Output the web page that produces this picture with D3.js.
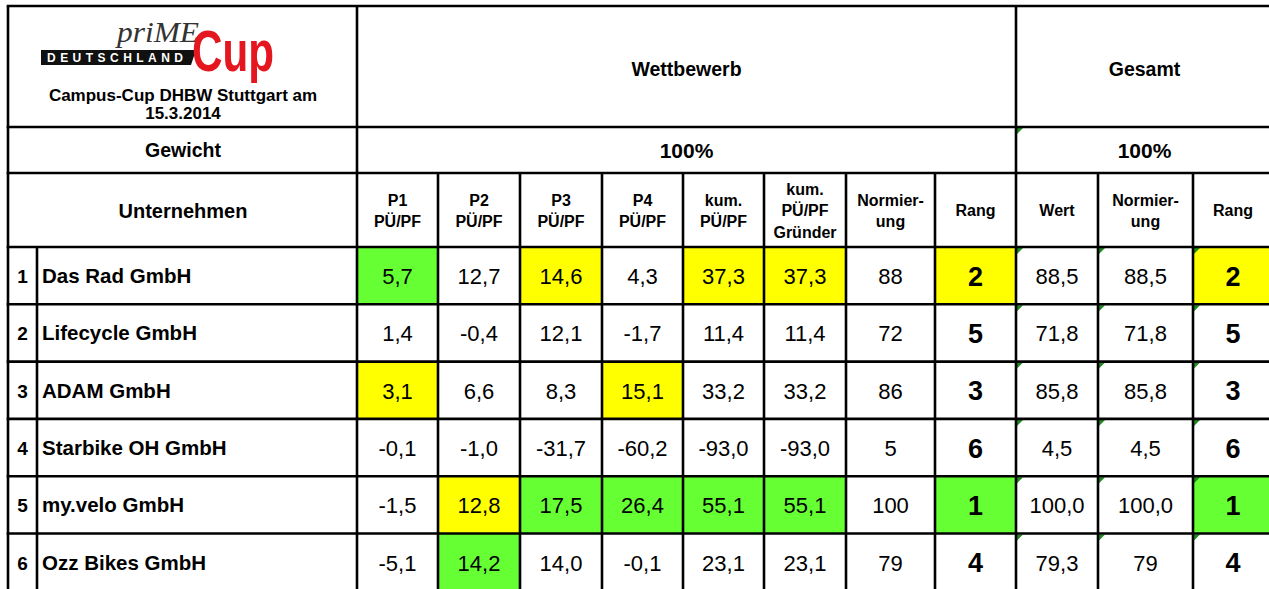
<!DOCTYPE html>
<html>
<head>
<meta charset="utf-8">
<script src="https://cdn.jsdelivr.net/npm/d3@7"></script>
<style>
  body { margin: 0; background: #fff; }
  svg { display: block; font-family: "Liberation Sans", Arial, sans-serif; }
</style>
</head>
<body>
<svg id="tbl" width="1269" height="589"></svg>
<script>
// ---- data ----
const companies = ['Das Rad GmbH', 'Lifecycle GmbH', 'ADAM GmbH', 'Starbike OH GmbH', 'my.velo GmbH', 'Ozz Bikes GmbH'];
const p1   = [5.7, 1.4, 3.1, -0.1, -1.5, -5.1];
const p2   = [12.7, -0.4, 6.6, -1.0, 12.8, 14.2];
const p3   = [14.6, 12.1, 8.3, -31.7, 17.5, 14.0];
const p4   = [4.3, -1.7, 15.1, -60.2, 26.4, -0.1];
const kum  = [37.3, 11.4, 33.2, -93.0, 55.1, 23.1];
const kumG = [37.3, 11.4, 33.2, -93.0, 55.1, 23.1];
const norm = [88, 72, 86, 5, 100, 79];
const rang = [2, 5, 3, 6, 1, 4];
const wert = [88.5, 71.8, 85.8, 4.5, 100.0, 79.3];
const gNorm = ['88,5', '71,8', '85,8', '4,5', '100,0', '79'];
const gRang = [2, 5, 3, 6, 1, 4];

const colHeads = [['P1', 'PÜ/PF'], ['P2', 'PÜ/PF'], ['P3', 'PÜ/PF'], ['P4', 'PÜ/PF'],
  ['kum.', 'PÜ/PF'], ['kum.', 'PÜ/PF', 'Gründer'], ['Normier-', 'ung'], ['Rang'],
  ['Wert'], ['Normier-', 'ung'], ['Rang']];
const weights = ['100%', '100%'];

// highlight per row: column index -> 'g' (best) / 'y' (second)
const marks = [
  { 0: 'g', 2: 'y', 4: 'y', 5: 'y', 7: 'y', 10: 'y' },
  {},
  { 0: 'y', 3: 'y' },
  {},
  { 1: 'y', 2: 'g', 3: 'g', 4: 'g', 5: 'g', 7: 'g', 10: 'g' },
  { 1: 'g' }
];

// ---- layout ----
const svg = d3.select('#tbl');
const fillCol = { g: '#66ff33', y: '#ffff00' };
const de = d3.formatLocale({ decimal: ',', thousands: '.', grouping: [3], currency: ['', '€'], minus: '-' });
const f1 = de.format('.1f');

const X0 = 8, XN = 37, XV = 357, XG = 1016, XR = 1273;
const colEdges = [357, 438, 520, 602, 683, 764, 846, 935, 1016, 1098, 1193, 1273];
const yTop = 6, yGew = 127, yHead = 173, yData = 247;

const yRow = d3.scaleBand().domain(d3.range(companies.length)).range([yData, yData + 57.3 * 6]).padding(0);
const xCol = i => colEdges[i];
const cw = i => colEdges[i + 1] - colEdges[i];
const cx = i => (colEdges[i] + colEdges[i + 1]) / 2;

const columns = [
  p1.map(f1), p2.map(f1), p3.map(f1), p4.map(f1), kum.map(f1), kumG.map(f1),
  norm.map(String), rang.map(String), wert.map(f1), gNorm, gRang.map(String)
];

// cell fills
const cells = svg.append('g');
companies.forEach((c, r) => {
  Object.entries(marks[r]).forEach(([ci, m]) => {
    ci = +ci;
    cells.append('rect')
      .attr('x', xCol(ci)).attr('y', yRow(r))
      .attr('width', cw(ci)).attr('height', yRow.bandwidth())
      .attr('fill', fillCol[m]);
  });
});

// green corner markers in Gesamt columns
const tri = svg.append('g').attr('fill', '#1f8a1f');
function corner(x, y) {
  tri.append('path').attr('d', `M${x + 1},${y + 1} L${x + 7},${y + 1} L${x + 1},${y + 7} Z`);
}
corner(XG, yGew);
companies.forEach((c, r) => [8, 9, 10].forEach(ci => corner(xCol(ci), yRow(r))));

// text
const T = svg.append('g').attr('fill', '#000').attr('text-anchor', 'middle');

// logo
const logo = svg.append('g');
logo.append('path').attr('d', 'M41,50 L196,50 L191,65 L41,65 Z').attr('fill', '#111');
logo.append('text').attr('x', 47).attr('y', 62).attr('fill', '#fff')
  .attr('font-size', 12).attr('font-weight', 'bold')
  .attr('textLength', 136).attr('lengthAdjust', 'spacing').text('DEUTSCHLAND');
logo.append('text').attr('x', 117).attr('y', 42).attr('fill', '#333')
  .attr('font-family', '"Liberation Serif", "DejaVu Serif", serif')
  .attr('font-style', 'italic').attr('font-size', 30)
  .attr('textLength', 82).attr('lengthAdjust', 'spacingAndGlyphs').text('priME');
logo.append('text').attr('x', 192).attr('y', 71).attr('fill', '#e4161f')
  .attr('font-size', 58).attr('font-weight', 'bold')
  .attr('textLength', 82).attr('lengthAdjust', 'spacingAndGlyphs').text('Cup');

T.append('text').attr('x', 183).attr('y', 101).attr('font-size', 17).attr('font-weight', 'bold')
  .text('Campus-Cup DHBW Stuttgart am');
T.append('text').attr('x', 183).attr('y', 119).attr('font-size', 17).attr('font-weight', 'bold')
  .text('15.3.2014');

T.append('text').attr('x', (XV + XG) / 2).attr('y', 76).attr('font-size', 19.5).attr('font-weight', 'bold').text('Wettbewerb');
T.append('text').attr('x', (XG + XR) / 2).attr('y', 76).attr('font-size', 19.5).attr('font-weight', 'bold').text('Gesamt');

T.append('text').attr('x', 183).attr('y', 157).attr('font-size', 19.5).attr('font-weight', 'bold').text('Gewicht');
T.append('text').attr('x', (XV + XG) / 2).attr('y', 158).attr('font-size', 21).attr('font-weight', 'bold').text(weights[0]);
T.append('text').attr('x', (XG + XR) / 2).attr('y', 158).attr('font-size', 21).attr('font-weight', 'bold').text(weights[1]);

T.append('text').attr('x', 183).attr('y', 218).attr('font-size', 20).attr('font-weight', 'bold').text('Unternehmen');

colHeads.forEach((lines, ci) => {
  const lh = 21.3;
  const y0 = 216.3 - (lines.length - 1) * lh / 2;
  lines.forEach((s, k) => {
    T.append('text').attr('x', cx(ci)).attr('y', y0 + k * lh)
      .attr('font-size', 16).attr('font-weight', 'bold').text(s);
  });
});

companies.forEach((c, r) => {
  const ym = yRow(r) + yRow.bandwidth() / 2;
  T.append('text').attr('x', (X0 + XN) / 2).attr('y', ym + 7.5).attr('font-size', 19).attr('font-weight', 'bold').text(r + 1);
  T.append('text').attr('x', XN + 5).attr('y', ym + 7.5).attr('text-anchor', 'start')
    .attr('font-size', 20.5).attr('font-weight', 'bold').text(c);
  columns.forEach((col, ci) => {
    const isRank = ci === 7 || ci === 10;
    T.append('text').attr('x', cx(ci)).attr('y', isRank ? ym + 10 : ym + 8.5)
      .attr('font-size', isRank ? 27 : 22)
      .attr('font-weight', isRank ? 'bold' : 'normal')
      .text(col[r]);
  });
});

// grid lines
const G = svg.append('g').attr('stroke', '#000').attr('stroke-width', 2.6).attr('fill', 'none');
const yEnd = 600;
const hLines = [yTop, yGew, yHead].concat(d3.range(companies.length).map(r => yRow(r)));
hLines.forEach(y => G.append('line').attr('x1', X0 - 1.3).attr('x2', 1280).attr('y1', y).attr('y2', y));
G.append('line').attr('x1', X0).attr('x2', X0).attr('y1', yTop).attr('y2', yEnd);
G.append('line').attr('x1', XN).attr('x2', XN).attr('y1', yData).attr('y2', yEnd);
G.append('line').attr('x1', XV).attr('x2', XV).attr('y1', yTop).attr('y2', yEnd);
G.append('line').attr('x1', XG).attr('x2', XG).attr('y1', yTop).attr('y2', yEnd);
colEdges.slice(1, -1).forEach(x => {
  if (x === XG) return;
  G.append('line').attr('x1', x).attr('x2', x).attr('y1', yHead).attr('y2', yEnd);
});
</script>
</body>
</html>
